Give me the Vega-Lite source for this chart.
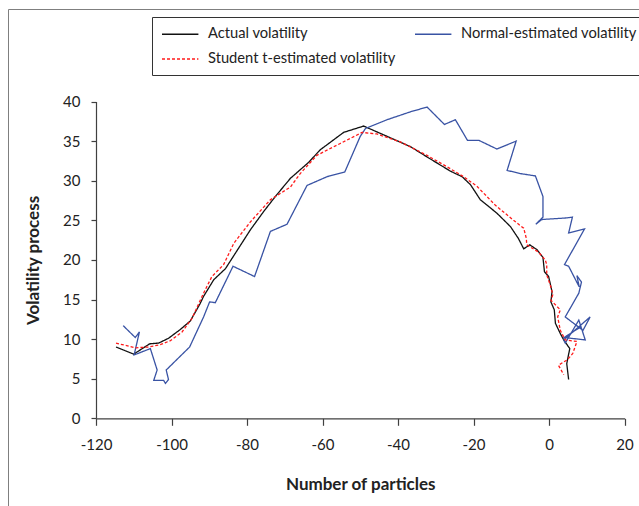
{
"$schema": "https://vega.github.io/schema/vega-lite/v6.json",
"width": 640, "height": 498,
"autosize": {"type": "none"},
"padding": {"left": 8, "top": 9, "right": -9, "bottom": -1},
"config": {"view": {"stroke": "#7f7f7f", "strokeWidth": 1}, "font": "Lato",
  "axis": {"domainColor": "#404040", "tickColor": "#404040", "labelColor": "#222222", "titleColor": "#222222", "labelFont": "Lato", "titleFont": "Lato", "labelFontSize": 15, "titleFontSize": 17, "titleFontWeight": "bold", "grid": false, "domainWidth": 1.2, "tickWidth": 1.2}},
"datasets": {
"pts": [
{"series":"Actual volatility","order":1,"x":-114.7,"y":9.0},
{"series":"Actual volatility","order":2,"x":-110.0,"y":8.1},
{"series":"Actual volatility","order":3,"x":-105.8,"y":9.4},
{"series":"Actual volatility","order":4,"x":-103.4,"y":9.5},
{"series":"Actual volatility","order":5,"x":-100.8,"y":10.1},
{"series":"Actual volatility","order":6,"x":-97.7,"y":11.2},
{"series":"Actual volatility","order":7,"x":-95.0,"y":12.3},
{"series":"Actual volatility","order":8,"x":-92.4,"y":14.5},
{"series":"Actual volatility","order":9,"x":-91.5,"y":15.4},
{"series":"Actual volatility","order":10,"x":-88.8,"y":17.5},
{"series":"Actual volatility","order":11,"x":-85.7,"y":18.9},
{"series":"Actual volatility","order":12,"x":-82.6,"y":21.2},
{"series":"Actual volatility","order":13,"x":-79.1,"y":23.8},
{"series":"Actual volatility","order":14,"x":-75.6,"y":26.1},
{"series":"Actual volatility","order":15,"x":-72.5,"y":28.0},
{"series":"Actual volatility","order":16,"x":-68.5,"y":30.3},
{"series":"Actual volatility","order":17,"x":-63.7,"y":32.3},
{"series":"Actual volatility","order":18,"x":-60.6,"y":33.9},
{"series":"Actual volatility","order":19,"x":-54.4,"y":36.1},
{"series":"Actual volatility","order":20,"x":-49.1,"y":36.9},
{"series":"Actual volatility","order":21,"x":-42.9,"y":35.6},
{"series":"Actual volatility","order":22,"x":-36.7,"y":34.3},
{"series":"Actual volatility","order":23,"x":-32.3,"y":33.0},
{"series":"Actual volatility","order":24,"x":-26.1,"y":31.2},
{"series":"Actual volatility","order":25,"x":-23.0,"y":30.5},
{"series":"Actual volatility","order":26,"x":-20.8,"y":29.5},
{"series":"Actual volatility","order":27,"x":-18.2,"y":27.6},
{"series":"Actual volatility","order":28,"x":-13.8,"y":25.9},
{"series":"Actual volatility","order":29,"x":-10.2,"y":24.2},
{"series":"Actual volatility","order":30,"x":-8.1,"y":22.7},
{"series":"Actual volatility","order":31,"x":-6.7,"y":21.4},
{"series":"Actual volatility","order":32,"x":-5.1,"y":21.9},
{"series":"Actual volatility","order":33,"x":-3.2,"y":21.3},
{"series":"Actual volatility","order":34,"x":-1.6,"y":20.3},
{"series":"Actual volatility","order":35,"x":-1.2,"y":18.5},
{"series":"Actual volatility","order":36,"x":-0.1,"y":17.9},
{"series":"Actual volatility","order":37,"x":0.8,"y":16.0},
{"series":"Actual volatility","order":38,"x":0.5,"y":14.7},
{"series":"Actual volatility","order":39,"x":1.4,"y":13.7},
{"series":"Actual volatility","order":40,"x":1.7,"y":12.0},
{"series":"Actual volatility","order":41,"x":3.0,"y":10.7},
{"series":"Actual volatility","order":42,"x":3.9,"y":9.9},
{"series":"Actual volatility","order":43,"x":5.5,"y":8.8},
{"series":"Actual volatility","order":44,"x":4.7,"y":6.9},
{"series":"Actual volatility","order":45,"x":5.2,"y":4.9},
{"series":"Normal-estimated volatility","order":1,"x":-112.8,"y":11.7},
{"series":"Normal-estimated volatility","order":2,"x":-109.6,"y":10.2},
{"series":"Normal-estimated volatility","order":3,"x":-108.5,"y":10.9},
{"series":"Normal-estimated volatility","order":4,"x":-109.9,"y":8.0},
{"series":"Normal-estimated volatility","order":5,"x":-105.6,"y":8.8},
{"series":"Normal-estimated volatility","order":6,"x":-103.8,"y":6.1},
{"series":"Normal-estimated volatility","order":7,"x":-104.7,"y":4.8},
{"series":"Normal-estimated volatility","order":8,"x":-102.1,"y":4.8},
{"series":"Normal-estimated volatility","order":9,"x":-101.6,"y":4.4},
{"series":"Normal-estimated volatility","order":10,"x":-100.8,"y":4.9},
{"series":"Normal-estimated volatility","order":11,"x":-101.4,"y":6.1},
{"series":"Normal-estimated volatility","order":12,"x":-95.2,"y":9.0},
{"series":"Normal-estimated volatility","order":13,"x":-91.5,"y":12.8},
{"series":"Normal-estimated volatility","order":14,"x":-89.9,"y":14.7},
{"series":"Normal-estimated volatility","order":15,"x":-88.4,"y":14.6},
{"series":"Normal-estimated volatility","order":16,"x":-83.7,"y":19.2},
{"series":"Normal-estimated volatility","order":17,"x":-78.0,"y":17.9},
{"series":"Normal-estimated volatility","order":18,"x":-73.8,"y":23.6},
{"series":"Normal-estimated volatility","order":19,"x":-69.4,"y":24.5},
{"series":"Normal-estimated volatility","order":20,"x":-64.1,"y":29.4},
{"series":"Normal-estimated volatility","order":21,"x":-58.8,"y":30.5},
{"series":"Normal-estimated volatility","order":22,"x":-54.1,"y":31.1},
{"series":"Normal-estimated volatility","order":23,"x":-50.0,"y":35.6},
{"series":"Normal-estimated volatility","order":24,"x":-48.6,"y":36.6},
{"series":"Normal-estimated volatility","order":25,"x":-42.9,"y":37.7},
{"series":"Normal-estimated volatility","order":26,"x":-36.7,"y":38.7},
{"series":"Normal-estimated volatility","order":27,"x":-32.3,"y":39.3},
{"series":"Normal-estimated volatility","order":28,"x":-27.7,"y":37.1},
{"series":"Normal-estimated volatility","order":29,"x":-24.8,"y":37.7},
{"series":"Normal-estimated volatility","order":30,"x":-21.6,"y":35.1},
{"series":"Normal-estimated volatility","order":31,"x":-18.6,"y":35.1},
{"series":"Normal-estimated volatility","order":32,"x":-13.8,"y":34.0},
{"series":"Normal-estimated volatility","order":33,"x":-8.7,"y":35.0},
{"series":"Normal-estimated volatility","order":34,"x":-11.1,"y":31.3},
{"series":"Normal-estimated volatility","order":35,"x":-7.6,"y":30.9},
{"series":"Normal-estimated volatility","order":36,"x":-3.6,"y":30.6},
{"series":"Normal-estimated volatility","order":37,"x":-1.6,"y":28.0},
{"series":"Normal-estimated volatility","order":38,"x":-1.6,"y":25.4},
{"series":"Normal-estimated volatility","order":39,"x":-3.5,"y":24.5},
{"series":"Normal-estimated volatility","order":40,"x":-1.9,"y":25.1},
{"series":"Normal-estimated volatility","order":41,"x":4.7,"y":25.3},
{"series":"Normal-estimated volatility","order":42,"x":6.2,"y":25.4},
{"series":"Normal-estimated volatility","order":43,"x":5.2,"y":23.4},
{"series":"Normal-estimated volatility","order":44,"x":9.4,"y":23.9},
{"series":"Normal-estimated volatility","order":45,"x":4.1,"y":19.4},
{"series":"Normal-estimated volatility","order":46,"x":5.2,"y":19.2},
{"series":"Normal-estimated volatility","order":47,"x":8.0,"y":16.6},
{"series":"Normal-estimated volatility","order":48,"x":7.4,"y":18.0},
{"series":"Normal-estimated volatility","order":49,"x":8.6,"y":17.2},
{"series":"Normal-estimated volatility","order":50,"x":7.9,"y":15.8},
{"series":"Normal-estimated volatility","order":51,"x":4.3,"y":12.8},
{"series":"Normal-estimated volatility","order":52,"x":9.0,"y":11.1},
{"series":"Normal-estimated volatility","order":53,"x":10.9,"y":12.8},
{"series":"Normal-estimated volatility","order":54,"x":3.9,"y":9.9},
{"series":"Normal-estimated volatility","order":55,"x":4.3,"y":9.5},
{"series":"Normal-estimated volatility","order":56,"x":7.9,"y":12.4},
{"series":"Normal-estimated volatility","order":57,"x":9.6,"y":9.9},
{"series":"Normal-estimated volatility","order":58,"x":4.0,"y":10.2},
{"series":"Normal-estimated volatility","order":59,"x":8.6,"y":11.6},
{"series":"Student t-estimated volatility","order":1,"x":-114.7,"y":9.5},
{"series":"Student t-estimated volatility","order":2,"x":-109.6,"y":8.9},
{"series":"Student t-estimated volatility","order":3,"x":-106.1,"y":9.0},
{"series":"Student t-estimated volatility","order":4,"x":-103.0,"y":9.3},
{"series":"Student t-estimated volatility","order":5,"x":-100.3,"y":9.8},
{"series":"Student t-estimated volatility","order":6,"x":-97.2,"y":10.9},
{"series":"Student t-estimated volatility","order":7,"x":-94.6,"y":12.6},
{"series":"Student t-estimated volatility","order":8,"x":-91.5,"y":15.8},
{"series":"Student t-estimated volatility","order":9,"x":-89.3,"y":17.9},
{"series":"Student t-estimated volatility","order":10,"x":-86.2,"y":19.4},
{"series":"Student t-estimated volatility","order":11,"x":-83.5,"y":22.1},
{"series":"Student t-estimated volatility","order":12,"x":-79.1,"y":24.8},
{"series":"Student t-estimated volatility","order":13,"x":-73.8,"y":27.6},
{"series":"Student t-estimated volatility","order":14,"x":-68.5,"y":29.2},
{"series":"Student t-estimated volatility","order":15,"x":-65.9,"y":30.9},
{"series":"Student t-estimated volatility","order":16,"x":-61.5,"y":33.2},
{"series":"Student t-estimated volatility","order":17,"x":-55.3,"y":34.7},
{"series":"Student t-estimated volatility","order":18,"x":-49.5,"y":36.1},
{"series":"Student t-estimated volatility","order":19,"x":-45.6,"y":35.9},
{"series":"Student t-estimated volatility","order":20,"x":-39.4,"y":34.9},
{"series":"Student t-estimated volatility","order":21,"x":-32.3,"y":33.2},
{"series":"Student t-estimated volatility","order":22,"x":-26.1,"y":31.5},
{"series":"Student t-estimated volatility","order":23,"x":-22.6,"y":30.5},
{"series":"Student t-estimated volatility","order":24,"x":-19.1,"y":29.3},
{"series":"Student t-estimated volatility","order":25,"x":-14.2,"y":26.9},
{"series":"Student t-estimated volatility","order":26,"x":-9.4,"y":25.0},
{"series":"Student t-estimated volatility","order":27,"x":-6.7,"y":24.0},
{"series":"Student t-estimated volatility","order":28,"x":-6.0,"y":22.7},
{"series":"Student t-estimated volatility","order":29,"x":-5.9,"y":21.9},
{"series":"Student t-estimated volatility","order":30,"x":-2.8,"y":21.0},
{"series":"Student t-estimated volatility","order":31,"x":-1.0,"y":20.0},
{"series":"Student t-estimated volatility","order":32,"x":-0.6,"y":19.4},
{"series":"Student t-estimated volatility","order":33,"x":-0.6,"y":18.1},
{"series":"Student t-estimated volatility","order":34,"x":0.5,"y":16.6},
{"series":"Student t-estimated volatility","order":35,"x":1.0,"y":15.6},
{"series":"Student t-estimated volatility","order":36,"x":0.5,"y":14.9},
{"series":"Student t-estimated volatility","order":37,"x":3.0,"y":13.7},
{"series":"Student t-estimated volatility","order":38,"x":2.3,"y":12.8},
{"series":"Student t-estimated volatility","order":39,"x":3.0,"y":11.1},
{"series":"Student t-estimated volatility","order":40,"x":4.3,"y":9.9},
{"series":"Student t-estimated volatility","order":41,"x":7.4,"y":9.7},
{"series":"Student t-estimated volatility","order":42,"x":6.3,"y":8.2},
{"series":"Student t-estimated volatility","order":43,"x":4.9,"y":7.4},
{"series":"Student t-estimated volatility","order":44,"x":2.5,"y":6.7},
{"series":"Student t-estimated volatility","order":45,"x":3.9,"y":5.5}
]},
"data": {"name": "pts"},
"mark": {"type": "line", "strokeWidth": 1.3},
"encoding": {
  "x": {"field": "x", "type": "quantitative", "scale": {"domain": [-120, 20], "nice": false, "zero": false, "range": [88, 616.5]},
    "axis": {"title": "Number of particles", "values": [-120, -100, -80, -60, -40, -20, 0, 20], "labelExpr": "'' + datum.value", "offset": -88.7, "tickSize": 7, "labelPadding": 12, "titlePadding": 24, "labelFlush": false}},
  "y": {"field": "y", "type": "quantitative", "scale": {"domain": [0, 40], "nice": false, "range": [409.3, 92.5]},
    "axis": {"title": "Volatility process", "values": [0, 5, 10, 15, 20, 25, 30, 35, 40], "offset": -88, "tickSize": 5, "labelPadding": 11, "titlePadding": 20}},
  "color": {"field": "series", "type": "nominal",
    "scale": {"domain": ["Actual volatility", "Student t-estimated volatility", "Normal-estimated volatility"], "range": ["#111111", "#FF1A1A", "#3953A4"]},
    "legend": {"orient": "none", "legendX": 144, "legendY": 8, "title": null, "columns": 2, "columnPadding": 16, "rowPadding": 10, "strokeColor": "#333333", "padding": 9, "symbolType": "M-1,0H4.2", "symbolSize": 196, "symbolStrokeWidth": 1.5, "labelFontSize": 14.7, "labelFont": "Lato", "labelColor": "#222222", "labelOffset": 31, "labelLimit": 300}},
  "strokeDash": {"field": "series", "type": "nominal",
    "scale": {"domain": ["Actual volatility", "Student t-estimated volatility", "Normal-estimated volatility"], "range": [[1, 0], [3, 2], [1, 0]]},
    "legend": {"orient": "none", "legendX": 144, "legendY": 8, "title": null, "columns": 2, "columnPadding": 16, "rowPadding": 10, "strokeColor": "#333333", "padding": 9, "symbolType": "M-1,0H4.2", "symbolSize": 196, "symbolStrokeWidth": 1.5, "labelFontSize": 14.7, "labelFont": "Lato", "labelColor": "#222222", "labelOffset": 31, "labelLimit": 300}},
  "order": {"field": "order", "type": "quantitative"}
}
}
